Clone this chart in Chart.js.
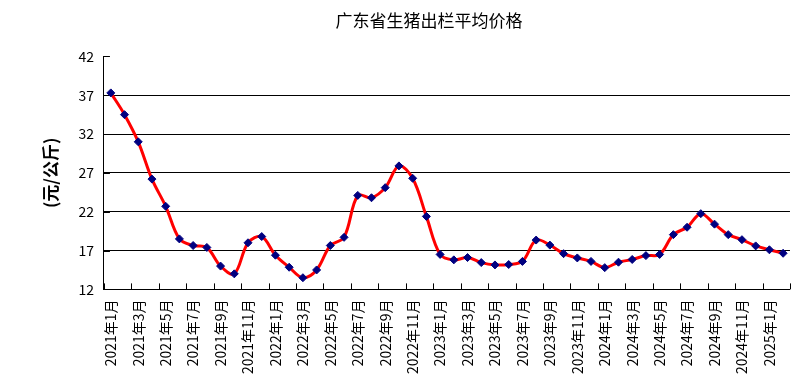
<!DOCTYPE html>
<html>
<head>
<meta charset="utf-8">
<script src="https://cdn.jsdelivr.net/npm/chart.js@4"></script>
<style>
  html, body { margin: 0; padding: 0; background: #fff; }
  #wrap { width: 810px; height: 386px; }
</style>
</head>
<body>
<div id="wrap"><canvas id="price-chart" width="810" height="386"></canvas></div>
<script>
// month labels (categories)
const months = [
    '2021年1月', '2021年2月', '2021年3月', '2021年4月', '2021年5月', '2021年6月',
    '2021年7月', '2021年8月', '2021年9月', '2021年10月', '2021年11月', '2021年12月',
    '2022年1月', '2022年2月', '2022年3月', '2022年4月', '2022年5月', '2022年6月',
    '2022年7月', '2022年8月', '2022年9月', '2022年10月', '2022年11月', '2022年12月',
    '2023年1月', '2023年2月', '2023年3月', '2023年4月', '2023年5月', '2023年6月',
    '2023年7月', '2023年8月', '2023年9月', '2023年10月', '2023年11月', '2023年12月',
    '2024年1月', '2024年2月', '2024年3月', '2024年4月', '2024年5月', '2024年6月',
    '2024年7月', '2024年8月', '2024年9月', '2024年10月', '2024年11月', '2024年12月',
    '2025年1月', '2025年2月'
];

// average price, yuan per kg
const prices = [
    37.3, 34.5, 31.0, 26.2, 22.7, 18.5, 17.65, 17.4, 15.0, 14.0, 18.0, 18.8,
    16.4, 14.85, 13.5, 14.5, 17.65, 18.7, 24.1, 23.8, 25.1, 27.9, 26.3, 21.4,
    16.5, 15.8, 16.1, 15.45, 15.15, 15.2, 15.6, 18.35, 17.7, 16.6, 16.05, 15.6,
    14.8, 15.5, 15.85, 16.35, 16.5, 19.05, 20.0, 21.75, 20.4, 19.05, 18.4, 17.6,
    17.1, 16.65
];

const yMin = 12;
const yMax = 42;
const yStep = 5;

const FONT = '"Noto Sans CJK SC", "Noto Sans", sans-serif';

// Excel style tick marks pointing into the plot
const innerTicks = {
    id: 'innerTicks',
    beforeDatasetsDraw(chart) {
        const { ctx, scales: { x, y } } = chart;
        const step = x.width / months.length;
        ctx.save();
        ctx.strokeStyle = '#000';
        ctx.lineWidth = 1;
        ctx.beginPath();
        for (let i = 0; i <= months.length; i += 2) {
            const px = Math.round(x.left + i * step) + 0.5;
            ctx.moveTo(px, x.top);
            ctx.lineTo(px, x.top - 6);
        }
        y.ticks.forEach(t => {
            const py = Math.round(y.getPixelForValue(t.value)) + 0.5;
            ctx.moveTo(y.right, py);
            ctx.lineTo(y.right + 6, py);
        });
        ctx.stroke();
        ctx.restore();
    }
};

const ctx = document.querySelector('#price-chart').getContext('2d');

const priceChart = new Chart(ctx, {
    type: 'line',
    data: {
        labels: months,
        datasets: [{
            data: prices,
            borderColor: '#ff0000',
            borderWidth: 3,
            tension: 0.35,
            pointStyle: 'rectRot',
            pointRadius: 4,
            pointBackgroundColor: '#000080',
            pointBorderColor: '#000080',
            pointBorderWidth: 1
        }]
    },
    options: {
        responsive: false,
        animation: false,
        layout: {
            padding: { left: 56, right: 8, top: 0, bottom: 2 }
        },
        plugins: {
            legend: { display: false },
            tooltip: { enabled: false },
            title: {
                display: true,
                text: '广东省生猪出栏平均价格',
                color: '#000',
                font: { family: FONT, size: 17, weight: 'normal' },
                padding: { top: 10, bottom: 26 }
            }
        },
        scales: {
            x: {
                offset: true,
                grid: { display: false, drawTicks: false },
                border: { display: true, color: '#000', width: 1 },
                ticks: {
                    autoSkip: false,
                    maxRotation: 90,
                    minRotation: 90,
                    padding: 10,
                    color: '#000',
                    font: { family: FONT, size: 14 },
                    callback: function (value, index) {
                        return index % 2 === 0 ? months[index] : '';
                    }
                }
            },
            y: {
                min: yMin,
                max: yMax,
                grid: {
                    drawTicks: false,
                    color: c => (c.tick && c.tick.value === yMax) ? 'rgba(0,0,0,0)' : '#000',
                    lineWidth: 1
                },
                border: { display: true, color: '#000', width: 1 },
                ticks: {
                    stepSize: yStep,
                    padding: 10,
                    color: '#000',
                    font: { family: FONT, size: 14 }
                },
                title: {
                    display: true,
                    text: '(元/公斤)',
                    color: '#000',
                    font: { family: FONT, size: 17, weight: 'bold' },
                    padding: { top: -16, bottom: 8 }
                }
            }
        }
    },
    plugins: [innerTicks]
});
</script>
</body>
</html>
